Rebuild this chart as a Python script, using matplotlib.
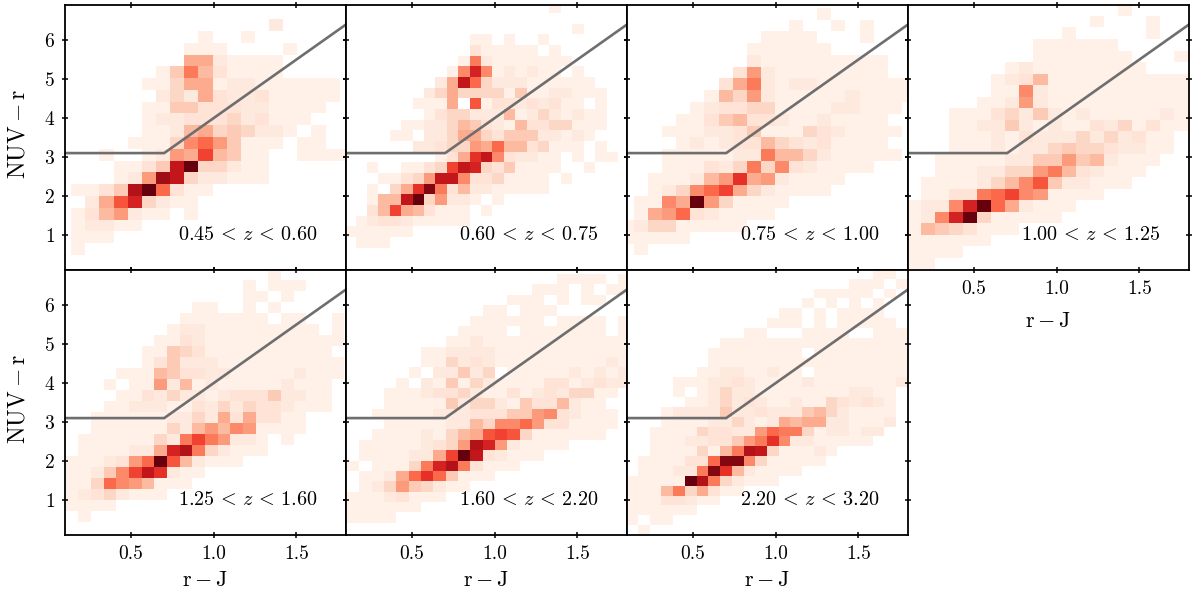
import matplotlib
matplotlib.use('Agg')
import matplotlib.pyplot as plt
from matplotlib.colors import PowerNorm
import numpy as np

plt.rcParams['font.family'] = ['cmr10', 'DejaVu Serif']
plt.rcParams['mathtext.fontset'] = 'cm'
plt.rcParams['axes.formatter.use_mathtext'] = True

z_labels = [r'0.45\,<\,z\,<\,0.60', r'0.60\,<\,z\,<\,0.75', r'0.75\,<\,z\,<\,1.00', r'1.00\,<\,z\,<\,1.25',
            r'1.25\,<\,z\,<\,1.60', r'1.60\,<\,z\,<\,2.20', r'2.20\,<\,z\,<\,3.20']

# bin grid of each panel: left edge, bin width, top edge, bin height
x_left = [0.052, 0.089, 0.0565, 0.091, 0.105, 0.107, 0.095]
x_step = [0.0855, 0.069, 0.0853, 0.0853, 0.0766, 0.0746, 0.071]
y_top = [6.84, 6.966, 6.83, 6.915, 6.923, 7.06, 6.93]
y_step = [0.3026, 0.2735, 0.3026, 0.2957, 0.282, 0.2658, 0.253]

# selection line
cut_x = [0.1, 0.7, 1.8]
cut_y = [3.1, 3.1, 6.4]

# counts, scaled so the densest cell is 20, rows from top to bottom
p1 = [
    [],
    [0,0,0,0,0,0,0,0,0,0,0,0,0,0,0,2],
    [0,0,0,0,0,0,0,0,0,0,1,0,0,1],
    [0,0,0,0,0,0,0,0,0,1,1,1,0,0,0,0,1],
    [0,0,0,0,0,0,0,0,0,7,7,2,1,1,1,1],
    [0,0,0,0,0,0,0,1,5,10,6,3,1,1,1,1],
    [0,0,0,0,0,0,1,1,4,7,7,1,2,2,1,1,1,1,1,1],
    [0,0,0,0,0,0,0,2,4,2,7,3,2,2,3,1,1,1,1,1],
    [0,0,0,0,0,0,1,1,5,5,3,3,3,2,2,1,1,1,1],
    [0,0,0,0,0,0,1,2,2,3,3,3,4,2,3,1,1,1],
    [0,0,0,0,0,0,1,1,2,6,7,4,5,4,2,2,1,0,1],
    [0,0,0,0,0,1,1,1,4,9,11,8,5,1,1,1,0,1,1],
    [0,0,0,1,0,0,1,2,8,7,13,6,5,1,1,0,0,1,1,1,1],
    [0,0,0,0,1,1,3,5,16,20,4,4,2,1,1],
    [0,0,0,0,1,2,8,18,16,4,2,2,1,1,1],
    [0,1,1,3,5,17,20,11,3,1,1],
    [0,0,2,7,12,15,4,2,1,1],
    [0,1,3,6,8,2,1,1,0,1],
    [0,1,2,2,1,1],
    [0,1,1,1],
    [0,1],
]
p2 = [
    [0,0,0,0,0,0,0,0,0,0,0,0,0,0,0,0,0,0,1],
    [],
    [0,0,0,0,0,0,0,0,0,0,0,0,0,0,0,0,0,0,0,0,1],
    [0,0,0,0,0,0,0,0,0,0,0,1,1,0,1,0,0,1],
    [0,0,0,0,0,0,0,0,0,0,0,3,1,1,1,1,1,0,1],
    [0,0,0,0,0,0,0,0,0,0,1,10,2,1,1,1,1,1,1,1],
    [0,0,0,0,0,0,0,0,0,1,9,15,9,1,2,1,2,1,1,0,1],
    [0,0,0,0,0,0,0,0,2,7,16,11,4,2,2,2,1,1,1,1,1,1],
    [0,0,0,0,0,0,0,2,4,7,4,4,4,4,1,5,1,1,2,2,1,1,1],
    [0,0,0,0,0,0,1,1,1,7,0,12,1,3,3,2,3,2,3,1,1,0,1],
    [0,0,0,0,0,0,0,1,3,4,4,2,2,2,6,1,2,4,2,1,2,1,1],
    [0,0,0,0,0,1,1,2,2,4,6,5,3,2,1,6,3,3,4,4,1,1,1],
    [0,0,0,0,1,1,0,2,2,4,7,7,4,3,5,5,5,2,2,1,2,1],
    [0,0,0,0,0,0,2,2,3,4,4,8,7,11,6,6,3,4,1,1,1,0,1],
    [0,0,0,0,0,0,0,0,1,3,7,14,16,9,3,2,2,1,1,0,1,0,1,1],
    [0,0,1,0,0,1,1,3,4,13,16,15,4,3,5,1,1,1,1,0,0,1],
    [0,0,0,1,1,3,4,8,16,16,9,3,3,4,1,1,1,1,0,1],
    [0,0,1,0,4,7,14,19,10,3,6,2,2,1,1,1,1,1],
    [0,0,1,6,6,16,20,4,8,2,2,1,0,1],
    [0,0,3,6,13,7,6,3,1,1,1,0,1],
    [0,1,2,3,3,2,1,1,1,1,1],
    [1,1,1,1,1,1],
    [0,1,1,1],
]
p3 = [
    [0,0,0,0,0,0,0,0,0,0,0,0,0,0,1],
    [0,0,0,0,0,0,0,0,0,0,0,0,1,0,0,1,0,1],
    [0,0,0,0,0,0,0,0,0,0,1,1,1,1,0,0,0,1],
    [0,0,0,0,0,0,0,0,0,1,1,1,1,1,1],
    [0,0,0,0,0,0,0,0,0,2,1,1,1,1,1,1,1,1,1],
    [0,0,0,0,0,0,0,0,3,8,2,1,1,1,1,1,1,1,1],
    [0,0,0,0,0,0,0,3,7,10,2,1,2,2,1,1,1,1,1,1,1],
    [0,0,0,0,0,0,1,6,4,8,2,1,1,1,1,1,2,1,1,1,1],
    [0,0,0,0,0,1,2,3,3,4,4,1,1,1,1,2,2,1,1,1],
    [0,0,0,0,1,1,3,5,6,3,3,2,1,1,2,1,1,1,1],
    [0,0,0,1,1,1,2,2,3,5,1,1,1,4,3,2,1,1,1,1],
    [0,0,0,0,1,2,1,2,3,3,6,4,3,2,3,1,1,1,1],
    [0,0,0,1,1,1,1,1,2,2,10,6,6,4,2,1,1,1,1,1],
    [0,0,0,1,1,1,3,2,4,10,4,9,3,2,1,1,1,1],
    [0,0,1,1,1,2,6,8,14,7,8,2,1,1,1,1],
    [0,0,1,2,4,9,11,13,7,4,2,1,1,1,1],
    [0,1,1,9,7,20,8,4,1,1,1,1],
    [0,1,7,8,11,3,2,1,1,1,1],
    [1,2,4,4,1,1,1,1,1],
    [1,1,1,1,1],
    [0,1],
]
p4 = [
    [0,0,0,0,0,0,0,0,0,0,0,0,0,0,0,1],
    [0,0,0,0,0,0,0,0,0,0,0,0,0,1,0,0,0,1],
    [0,0,0,0,0,0,0,0,0,0,0,1,0,0,0,0,0,1],
    [0,0,0,0,0,0,0,0,0,1,1,1,1,1,1],
    [0,0,0,0,0,0,0,0,0,1,1,1,1,1,1,1,0,0,0,1],
    [0,0,0,0,0,0,0,1,2,1,1,1,1,1,1,1,1],
    [0,0,0,0,0,0,1,2,3,6,1,1,1,1,1,1,1,1,1,1],
    [0,0,0,0,0,0,1,1,9,2,1,1,1,1,1,1,1,1,1,1],
    [0,0,0,0,0,1,1,2,8,2,1,1,1,1,1,1,1,1,1,1],
    [0,0,0,1,1,1,3,4,2,5,2,1,2,1,1,1,1,1,2,1],
    [0,0,0,1,1,2,2,5,2,1,2,1,1,3,2,4,1,3,1,1],
    [0,0,0,1,1,1,2,1,3,2,2,2,4,2,4,2,3,1,1],
    [0,0,0,1,1,1,2,1,2,2,4,5,4,4,3,2,2,1,1],
    [0,0,1,1,1,1,1,2,2,5,5,8,5,6,2,1,1,1],
    [0,0,1,1,1,2,2,4,4,8,10,6,3,2,1,1,1],
    [0,1,1,1,1,2,4,6,9,12,5,2,2,1,1,1],
    [0,1,1,3,3,10,11,13,9,8,1,1,1,1],
    [1,2,2,9,15,20,11,7,2,1,1,1],
    [1,2,9,15,20,4,1,1,1,1,1],
    [1,6,5,4,3,1,1,1],
    [1,1,1,1,1,1],
    [1,1,1,1],
    [1,1],
]
p5 = [
    [0,0,0,0,0,0,0,0,0,0,0,0,0,0,0,0,1],
    [0,0,0,0,0,0,0,0,0,0,0,0,0,0,1,0,1,1,1],
    [0,0,0,0,0,0,0,0,0,0,0,0,0,0,1,1,0,1],
    [0,0,0,0,0,0,0,0,0,0,1,1,0,0,1,0,1],
    [0,0,0,0,0,0,0,0,0,1,1,1,1,1,1,1,0,1,1,0,0,1],
    [0,0,0,0,0,0,0,0,1,2,2,1,1,1,1,1,1,1,1,1,0,1],
    [0,0,0,0,0,0,0,1,1,3,2,1,1,1,1,1,1,1,1,1,1,1],
    [0,0,0,0,0,0,1,1,5,4,3,1,1,1,1,1,1,1,1,1,1],
    [0,0,0,0,0,0,1,3,5,2,2,2,1,1,1,1,1,1,1,1,1,1],
    [0,0,0,0,1,1,1,6,5,3,3,2,2,1,1,1,1,1,2,1,1,1],
    [0,0,0,1,0,1,1,8,2,6,1,2,1,1,1,1,1,2,1,1,1],
    [0,0,0,0,1,1,3,2,4,2,2,1,2,3,3,3,5,2,2,1,1],
    [0,0,0,1,1,2,2,2,1,1,3,2,4,2,4,3,3,2,1,1,1],
    [0,0,1,1,1,1,1,1,2,2,4,2,7,3,7,3,3,1,1],
    [0,0,1,1,1,1,1,1,4,2,6,8,6,9,8,1,1,1,1],
    [0,1,1,1,1,1,1,4,2,10,13,10,8,2,2,1,0,1],
    [0,1,1,1,1,2,2,7,15,17,10,4,2,1,1,1],
    [1,1,1,2,3,8,11,20,12,6,2,1,1,1],
    [1,1,2,5,9,13,16,14,2,1,1],
    [1,1,4,11,9,8,6,1,1,1],
    [1,2,3,4,2,1,1,1],
    [1,1,1,1],
    [0,1],
]
p6 = [
    [],
    [0,0,0,0,0,0,0,0,0,0,0,0,0,0,0,0,0,1,1,1,1,0,1],
    [0,0,0,0,0,0,0,0,0,0,0,0,0,0,0,1,1,1,0,1,0,1,1],
    [0,0,0,0,0,0,0,0,0,0,0,0,0,1,1,1,0,1,0,1,1],
    [0,0,0,0,0,0,0,0,0,0,0,1,1,0,1,1,1],
    [0,0,0,0,0,0,0,0,0,0,1,1,1,1,1,1,0,1,1,1,1,0,1],
    [0,0,0,0,0,0,0,0,0,1,1,1,1,0,1,1,1,1,1,1,1,0,1],
    [0,0,0,0,0,0,0,0,1,1,2,1,1,1,1,1,1,1,1,1,1,1,1],
    [0,0,0,0,0,0,1,1,2,2,2,2,1,1,1,1,1,1,1,1,1,1,1],
    [0,0,0,0,0,0,1,1,4,2,3,2,1,1,1,1,1,1,1,1,1,2,1],
    [0,0,0,0,0,1,0,2,2,5,2,4,0,1,1,1,1,1,2,1,2,1,2],
    [0,0,0,0,1,0,2,1,5,1,4,2,1,1,1,1,3,3,1,2,3,2,2],
    [0,0,0,1,1,1,2,3,3,4,2,1,1,3,1,2,3,2,4,4,1,1],
    [0,0,0,1,1,1,1,1,5,2,4,4,2,1,5,3,3,6,2,1,1],
    [0,0,1,1,1,1,1,2,2,2,3,3,3,5,5,8,9,3,2,1,1,1],
    [0,0,0,1,1,1,1,1,2,2,6,4,9,9,11,8,3,3,1,1,1,1],
    [0,0,1,1,1,1,2,1,4,6,7,12,13,12,4,1,1,1,1,1,1],
    [0,1,1,1,1,1,2,3,4,8,17,15,8,2,1,1,1,1],
    [0,1,1,1,1,2,2,7,13,20,16,3,2,1,1,1],
    [1,0,1,1,1,4,10,15,17,10,3,1,1,1],
    [0,1,1,2,7,11,14,11,5,1,1,1],
    [0,1,2,4,8,5,4,2,1,1],
    [1,1,1,2,3,1,1,1],
    [1,1,1,1,1,1],
    [1,1,1,1],
]
p7 = [
    [0,0,0,0,0,0,0,0,0,0,0,0,0,0,0,0,0,0,0,0,0,1,1],
    [0,0,0,0,0,0,0,0,0,0,0,0,0,0,0,0,0,0,0,1,1,1,0,1],
    [0,0,0,0,0,0,0,0,0,0,0,0,0,0,0,0,1,1,1,1,1,0,1],
    [0,0,0,0,0,0,0,0,0,0,0,0,0,0,0,1,0,1,0,1,0,1],
    [0,0,0,0,0,0,0,0,0,0,0,0,0,1,1,0,1,0,1,1,1,1],
    [0,0,0,0,0,0,0,0,0,0,0,0,1,1,1,0,1,0,1,1,1,1,1],
    [0,0,0,0,0,0,0,0,0,0,1,1,0,0,0,1,1,1,1,0,0,1,1,1],
    [0,0,0,0,0,0,0,0,1,1,1,1,1,1,1,1,1,1,1,1,1,1,1,1],
    [0,0,0,0,0,0,0,1,1,1,1,1,1,1,1,0,1,1,1,1,1,1,1,1],
    [0,0,0,0,0,0,0,1,1,1,1,1,1,1,1,1,1,1,1,1,1,1,1,1],
    [0,0,0,0,0,0,1,1,2,2,1,1,2,1,1,0,1,1,1,1,1,1,1,1],
    [0,0,0,0,1,1,1,2,2,3,2,1,1,1,1,2,1,1,1,1,1,1,1,2],
    [0,0,0,0,1,0,1,2,4,2,2,1,1,1,1,1,1,1,1,2,2,1,1],
    [0,0,0,0,0,1,1,2,4,2,3,2,1,1,2,1,1,4,3,2,3,2,1],
    [0,0,0,1,2,2,2,2,5,2,2,3,2,2,2,5,6,4,2,1,1,1,1],
    [0,0,0,1,1,1,1,2,2,4,2,1,2,7,6,7,7,2,2,1,1,1,2],
    [0,0,1,1,1,1,4,3,3,2,2,8,11,10,10,4,1,2,2,1,2,2],
    [0,0,1,1,1,2,2,3,3,5,8,10,14,9,2,2,1,1,1,1,1],
    [0,0,1,1,1,1,4,1,6,10,17,16,4,1,1,1,2,1],
    [0,1,1,1,1,3,3,11,19,19,9,4,1,1,1,1,1],
    [0,1,1,1,2,2,10,19,14,6,2,1,1,1,1],
    [1,1,1,1,1,20,17,10,4,2,1,1,1],
    [1,1,1,6,10,4,7,3,1,1],
    [1,1,1,3,3,2,1,1],
    [1,1,1,1,1,1],
    [1,0,1,1],
    [0,1],
]
panels = [p1, p2, p3, p4, p5, p6, p7]

cmap = plt.get_cmap('Reds').copy()
cmap.set_bad('white')

fig = plt.figure(figsize=(12, 5.94), dpi=100)
gs = fig.add_gridspec(2, 4, left=65/1200, right=1189/1200, top=1-5/594, bottom=1-535/594,
                      wspace=0, hspace=0)

for i, rows in enumerate(panels):
    ax = fig.add_subplot(gs[i // 4, i % 4])
    ncol = max(len(r) for r in rows)
    grid = np.array([r + [0] * (ncol - len(r)) for r in rows], dtype=float)
    xedges = x_left[i] + x_step[i] * np.arange(ncol + 1)
    yedges = y_top[i] - y_step[i] * np.arange(len(rows) + 1)
    # low counts have to stay very pale
    ax.pcolormesh(xedges, yedges, np.ma.masked_equal(grid, 0), cmap=cmap,
                  norm=PowerNorm(1.15, vmin=0, vmax=20))
    ax.plot(cut_x, cut_y, color='#6e6e6e', lw=1.9)
    ax.text(0.785, 1.0, '$' + z_labels[i] + '$', fontsize=14.5, va='center')
    ax.set_xlim(0.1, 1.8)
    ax.set_ylim(0.1, 6.9)
    ax.set_xticks([0.5, 1.0, 1.5])
    ax.set_yticks([1, 2, 3, 4, 5, 6])
    ax.tick_params(direction='inout', top=True, right=True, length=4.6, width=1.1, pad=5,
                   labelsize=14, labelleft=(i % 4 == 0), labelbottom=(i >= 3))
    for s in ax.spines.values():
        s.set_linewidth(1.3)
    if i % 4 == 0:
        ax.set_ylabel(r'$\mathrm{NUV - r}$', fontsize=17, labelpad=10, y=0.513)
    if i >= 3:
        # the label of the lone top panel sits lower than the others
        pad = 10 if i == 3 else 5
        ax.set_xlabel(r'$\mathrm{r - J}$', fontsize=16, labelpad=pad)
        ax.set_xticklabels(['0.5', '1.0', '1.5'])

fig.savefig('out.png', dpi=100)
